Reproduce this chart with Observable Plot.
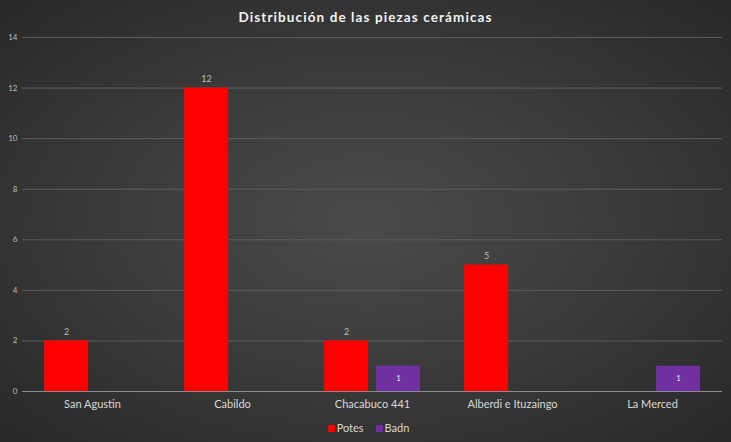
<!DOCTYPE html>
<html>
<head>
<meta charset="utf-8">
<script src="https://cdn.jsdelivr.net/npm/d3@7"></script>
<script src="https://cdn.jsdelivr.net/npm/@observablehq/plot@0.6"></script>
<style>
  html, body { margin: 0; padding: 0; background: #2b2b2b; }
  #wrap {
    width: 731px; height: 442px; position: relative; overflow: hidden;
    background: radial-gradient(ellipse at 50% 50%, #4a4a4a 0%, #3c3c3c 45%, #282828 100%);
    font-family: Lato, "Open Sans", sans-serif;
  }
  #title {
    height: 30px; line-height: 35px; text-align: center; color: #f2f2f2;
    font-weight: bold; font-size: 13.5px; letter-spacing: 1.1px;
  }
  #legend {
    height: 30px; display: flex; justify-content: center; align-items: center;
    gap: 12px; color: #d9d9d9; font-size: 11px; padding-left: 6px; box-sizing: border-box;
  }
  #legend span.sw { display: inline-block; width: 7px; height: 7px; margin-right: 2px; vertical-align: 0px; }
  svg { display: block; }
</style>
</head>
<body>
<div id="wrap">
  <div id="title">Distribución de las piezas cerámicas</div>
  <div id="chart"></div>
  <div id="legend"></div>
</div>
<script>
const categories = ["San Agustin", "Cabildo", "Chacabuco 441", "Alberdi e Ituzaingo", "La Merced"];
const seriesNames = ["Potes", "Badn"];
const potes = [2, 12, 2, 5, 0];
const badn = [0, 0, 1, 0, 1];
const colors = ["#ff0000", "#7030a0"];
const yTicks = [0, 2, 4, 6, 8, 10, 12, 14];

const rows = [];
categories.forEach((c, i) => {
  rows.push({place: c, series: "Potes", value: potes[i]});
  rows.push({place: c, series: "Badn", value: badn[i]});
});
const nonzero = rows.filter(d => d.value > 0);

const chart = Plot.plot({
  width: 731,
  height: 382,
  marginTop: 7,
  marginBottom: 21,
  marginLeft: 22,
  marginRight: 9,
  style: {background: "transparent", fontFamily: "Lato, 'Open Sans', sans-serif"},
  fx: {domain: categories, padding: 0},
  x: {domain: seriesNames, paddingInner: 0.1538, paddingOuter: 0.423, axis: null},
  y: {domain: [0, 14]},
  color: {domain: seriesNames, range: colors},
  marks: [
    Plot.gridY(yTicks, {stroke: "#5c5c5c", strokeOpacity: 1, strokeWidth: 1}),
    Plot.axisY(yTicks, {tickSize: 0, tickPadding: 5, fontSize: 8, fill: "#bfbfbf", label: null}),
    Plot.axisFx({anchor: "bottom", tickSize: 0, tickPadding: 9, fontSize: 11, fill: "#d9d9d9", label: null}),
    Plot.barY(nonzero, {fx: "place", x: "series", y: "value", fill: "series"}),
    Plot.ruleY([0], {stroke: "#8c8c8c", strokeWidth: 1}),
    Plot.text(nonzero.filter(d => d.series === "Potes"), {fx: "place", x: "series", y: "value", text: d => String(d.value), dy: -9, fontSize: 9, fill: "#bfbfbf"}),
    Plot.text(nonzero.filter(d => d.series === "Badn"), {fx: "place", x: "series", y: d => d.value / 2, text: d => String(d.value), fontSize: 7, fill: "#ffffff"})
  ]
});
document.getElementById("chart").appendChild(chart);

const legend = document.getElementById("legend");
seriesNames.forEach((s, i) => {
  const item = document.createElement("div");
  const sw = document.createElement("span");
  sw.className = "sw";
  sw.style.background = colors[i];
  item.appendChild(sw);
  item.appendChild(document.createTextNode(s));
  legend.appendChild(item);
});
</script>
</body>
</html>
